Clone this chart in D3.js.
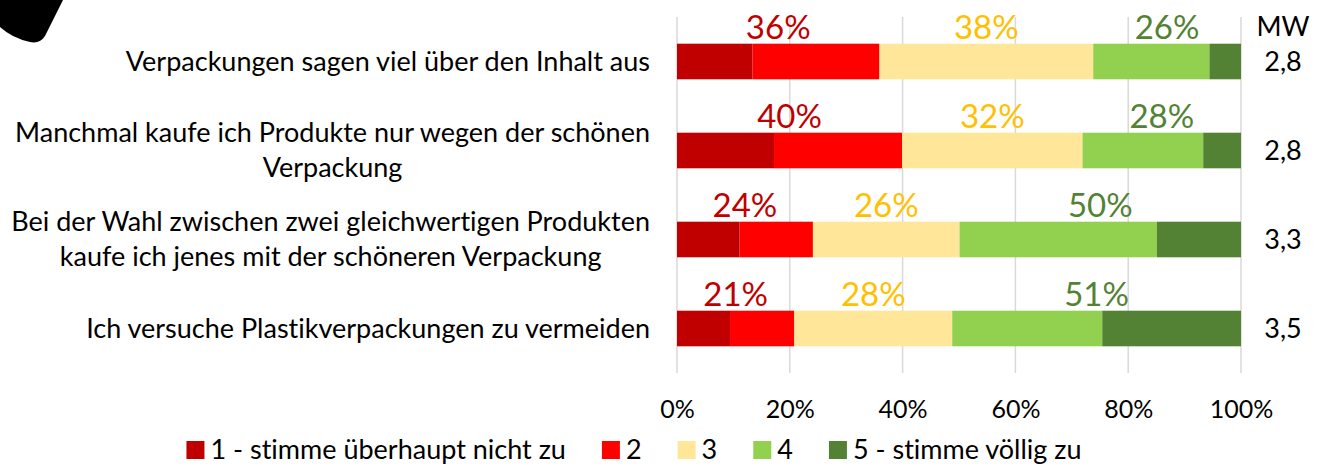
<!DOCTYPE html>
<html>
<head>
<meta charset="utf-8">
<script src="https://cdn.jsdelivr.net/npm/d3@7"></script>
<style>
  body { margin: 0; background: #fff; }
  text { font-family: Lato, "Open Sans", sans-serif; font-variant-ligatures: none; }
</style>
</head>
<body>
<div id="chart"></div>
<script>
var categories = [
    ["Verpackungen sagen viel über den Inhalt aus"],
    ["Manchmal kaufe ich Produkte nur wegen der schönen", "Verpackung"],
    ["Bei der Wahl zwischen zwei gleichwertigen Produkten", "kaufe ich jenes mit der schöneren Verpackung"],
    ["Ich versuche Plastikverpackungen zu vermeiden"]
];
var seriesNames = ["1 - stimme überhaupt nicht zu", "2", "3", "4", "5 - stimme völlig zu"];
var s1 = [13.4, 17.2, 11.1, 9.4];
var s2 = [22.5, 22.7, 13.0, 11.4];
var s3 = [37.9, 32.0, 26.0, 28.0];
var s4 = [20.6, 21.4, 35.0, 26.6];
var s5 = [5.6, 6.7, 14.9, 24.6];
var mw = ["2,8", "2,8", "3,3", "3,5"];
var xTicks = [0, 20, 40, 60, 80, 100];

var colors = ["#C00000", "#FF0000", "#FFE699", "#92D050", "#548235"];
var groupColors = ["#C00000", "#FFC000", "#548235"];

function init() {
    var w = 1330, h = 471;
    var left = 677, right = 1241, top = 17, bottom = 373;

    var svg = d3.select("#chart").append("svg")
        .attr("width", w).attr("height", h);

    // corner shape (cropped logo)
    svg.append("path")
        .attr("d", "M0,0 L63,0 L45,36 Q40,44 30,42 Q12,38 0,27 Z")
        .attr("fill", "#000");

    var rows = categories.map(function(c, i) {
        return { idx: i, vals: [s1[i], s2[i], s3[i], s4[i], s5[i]] };
    });

    var xScale = d3.scaleLinear().domain([0, 100]).range([left, right]);
    var yScale = d3.scaleBand().domain(d3.range(categories.length))
        .range([top, bottom]).paddingInner(0.6).paddingOuter(0.3);

    // gridlines
    svg.append("g").selectAll("line").data(xTicks).join("line")
        .attr("x1", function(d) { return xScale(d); })
        .attr("x2", function(d) { return xScale(d); })
        .attr("y1", top).attr("y2", bottom)
        .attr("stroke", "#D9D9D9").attr("stroke-width", 1.5);

    // x axis labels
    var xAxis = d3.axisBottom(xScale).tickValues(xTicks)
        .tickFormat(function(d) { return d + "%"; }).tickSize(0).tickPadding(0);
    var gx = svg.append("g").attr("transform", "translate(0," + 400 + ")").call(xAxis);
    gx.select(".domain").remove();
    gx.selectAll("text").attr("font-size", 25).attr("fill", "#000")
        .attr("font-family", "Lato, sans-serif");

    // bars
    rows.forEach(function(r) {
        var stack = [];
        var acc = 0;
        r.vals.forEach(function(v, k) { stack.push({ k: k, x0: acc, x1: acc + v }); acc += v; });
        var y = yScale(r.idx);
        svg.append("g").selectAll("rect").data(stack).join("rect")
            .attr("x", function(d) { return xScale(d.x0); })
            .attr("width", function(d) { return xScale(d.x1) - xScale(d.x0); })
            .attr("y", y).attr("height", yScale.bandwidth())
            .attr("fill", function(d) { return colors[d.k]; });

        // grouped percentage labels
        var groups = [
            [0, r.vals[0] + r.vals[1]],
            [r.vals[0] + r.vals[1], r.vals[0] + r.vals[1] + r.vals[2]],
            [r.vals[0] + r.vals[1] + r.vals[2], 100]
        ];
        svg.append("g").selectAll("text").data(groups).join("text")
            .attr("x", function(d) { return xScale((d[0] + d[1]) / 2); })
            .attr("y", y - 5)
            .attr("text-anchor", "middle")
            .attr("font-size", 33)
            .attr("fill", function(d, i) { return groupColors[i]; })
            .text(function(d) { return Math.round(d[1] - d[0]) + "%"; });

        // MW value
        svg.append("text")
            .attr("x", 1283).attr("y", y + yScale.bandwidth() / 2)
            .attr("dy", "0.35em").attr("text-anchor", "middle")
            .attr("font-size", 27).attr("fill", "#000")
            .text(mw[r.idx]);

        // category label, lines centred in a right-aligned block
        var lines = categories[r.idx];
        var lh = 35;
        var cy = y + yScale.bandwidth() / 2;
        var g = svg.append("g");
        var tx = g.selectAll("text").data(lines).join("text")
            .attr("y", function(d, i) { return cy + (i - (lines.length - 1) / 2) * lh; })
            .attr("dy", "0.35em")
            .attr("font-size", 27).attr("fill", "#000")
            .attr("text-anchor", "middle")
            .text(function(d) { return d; });
        var maxW = 0;
        tx.each(function() { maxW = Math.max(maxW, this.getComputedTextLength()); });
        tx.attr("x", 650 - maxW / 2);
    });

    svg.append("text")
        .attr("x", 1283).attr("y", 27).attr("dy", "0.35em")
        .attr("text-anchor", "middle").attr("font-size", 27)
        .text("MW");

    // legend
    var leg = svg.append("g");
    var items = leg.selectAll("g").data(seriesNames).join("g");
    items.append("rect").attr("width", 18).attr("height", 18).attr("y", 441)
        .attr("fill", function(d, i) { return colors[i]; });
    items.append("text").attr("x", 24).attr("y", 450).attr("dy", "0.35em")
        .attr("font-size", 27).attr("fill", "#000")
        .text(function(d) { return d; });
    var xpos = 0, offs = [];
    items.each(function() {
        offs.push(xpos);
        xpos += 24 + d3.select(this).select("text").node().getComputedTextLength() + 36;
    });
    var total = xpos - 36;
    var start = 634 - total / 2;
    items.attr("transform", function(d, i) { return "translate(" + (start + offs[i]) + ",0)"; });
}
window.onload = init;
</script>
</body>
</html>
